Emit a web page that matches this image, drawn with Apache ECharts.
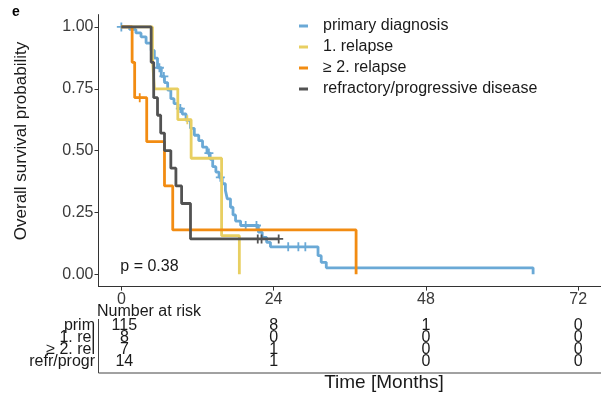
<!DOCTYPE html>
<html><head><meta charset="utf-8">
<script src="https://cdn.jsdelivr.net/npm/echarts@6/dist/echarts.min.js"></script>
<style>html,body{margin:0;padding:0;background:#fff}#c{width:601px;height:395px}</style>
</head><body><div id="c"></div>
<script>
const FONT = '"Liberation Sans", Arial, Helvetica, sans-serif';
const seriesNames = ['primary diagnosis', '1. relapse', '≥ 2. relapse', 'refractory/progressive disease'];
const seriesColors = ['#6aa9d6', '#e8cf62', '#f28c12', '#525252'];

// Kaplan-Meier step data (time in months, survival probability after the step)
const primTime = [0,1.3,2.3,3.1,3.9,4.7,5.2,5.7,6.3,6.8,7.3,7.8,8.3,8.9,9.6,10.2,10.9,11.5,12.2,12.8,13.5,14.0,14.4,14.9,15.4,15.9,16.4,16.7,17.2,17.6,18.0,18.8,21.6,22.2,22.9,23.5,31.0,31.5,32.3,64.9];
const primSurv = [1,0.99,0.976,0.96,0.935,0.905,0.874,0.835,0.80,0.775,0.745,0.71,0.69,0.67,0.648,0.622,0.59,0.562,0.54,0.514,0.49,0.465,0.435,0.413,0.392,0.366,0.339,0.305,0.271,0.24,0.215,0.197,0.17,0.149,0.129,0.111,0.075,0.048,0.026,0];
const primCensorTime = [0,6.0,6.7,9.3,13.8,15.6,19.6,21.3,26.3,27.9,29.0];

const relTime = [0,4.9,5.2,8.9,11.0,15.8,18.6];
const relSurv = [1,0.875,0.75,0.625,0.469,0.156,0];
const relCensorTime = [10.4];

const rel2Time = [0,1.7,2.1,4.0,6.8,8.1,37.0];
const rel2Surv = [1,0.857,0.714,0.536,0.357,0.179,0];
const rel2CensorTime = [2.9];

const refrTime = [0,4.7,5.1,5.7,6.2,6.8,7.8,8.6,9.5,10.9,24.8];
const refrSurv = [1,0.857,0.714,0.643,0.571,0.5,0.429,0.357,0.286,0.143,0.143];
const refrCensorTime = [21.5,22.1,24.8];

const xTicks = [0, 24, 48, 72];
const yTicks = [0, 0.25, 0.5, 0.75, 1];

// Number at risk table
const riskRowLabels = ['prim', '1. rel', '≥ 2. rel', 'refr/progr'];
const riskPrim = [115, 8, 1, 0];
const riskRel = [8, 0, 0, 0];
const riskRel2 = [7, 1, 0, 0];
const riskRefr = [14, 1, 0, 0];
const pValueText = 'p = 0.38';

const curves = [
  {t: primTime, s: primSurv, c: primCensorTime},
  {t: relTime, s: relSurv, c: relCensorTime},
  {t: rel2Time, s: rel2Surv, c: rel2CensorTime},
  {t: refrTime, s: refrSurv, c: refrCensorTime}
];
function levelAt(curve, t) {
  let v = curve.s[0];
  for (let i = 0; i < curve.t.length; i++) { if (curve.t[i] <= t) v = curve.s[i]; }
  return v;
}
const PLUS = 'path://M4,0H6V4H10V6H6V10H4V6H0V4H4Z';

const series = [];
curves.forEach((cv, i) => {
  series.push({
    name: seriesNames[i], type: 'line', step: 'end', showSymbol: false, symbol: 'none',
    data: cv.t.map((t, k) => [t, cv.s[k]]),
    lineStyle: {color: seriesColors[i], width: 2.8}, itemStyle: {color: seriesColors[i]},
    z: 2 + i * 2, silent: true
  });
  series.push({
    name: seriesNames[i] + ' censor', type: 'scatter', symbol: PLUS, symbolSize: 9,
    data: cv.c.map(t => [t, levelAt(cv, t)]),
    itemStyle: {color: seriesColors[i], opacity: 1}, z: 3 + i * 2, silent: true
  });
});

const chart = echarts.init(document.getElementById('c'), null, {renderer: 'canvas'});
chart.setOption({
  animation: false,
  backgroundColor: '#ffffff',
  grid: {left: 98.5, top: 14.6, width: 506, height: 272, containLabel: false},
  xAxis: {
    type: 'value', min: -3.6, max: 75.6,
    axisLine: {show: true, onZero: false, lineStyle: {color: '#333', width: 1}},
    axisTick: {show: true, length: 4, customValues: xTicks, lineStyle: {color: '#333'}},
    axisLabel: {customValues: xTicks, margin: 5, fontSize: 16, color: '#3a3a3a', fontFamily: FONT},
    splitLine: {show: false}
  },
  yAxis: {
    type: 'value', min: -0.05, max: 1.05,
    axisLine: {show: true, onZero: false, lineStyle: {color: '#333', width: 1}},
    axisTick: {show: true, length: 4, customValues: yTicks, lineStyle: {color: '#333'}},
    axisLabel: {customValues: yTicks, margin: 5, fontSize: 16, color: '#3a3a3a', fontFamily: FONT,
      formatter: v => v.toFixed(2)},
    splitLine: {show: false}
  },
  legend: {
    orient: 'vertical', left: 294, top: 13, itemWidth: 9, itemHeight: 3, itemGap: 5,
    icon: 'rect',
    data: seriesNames,
    textStyle: {fontSize: 16, fontFamily: FONT, color: '#1a1a1a', lineHeight: 16, padding: [0, 0, 0, 10]}
  },
  series: series
});

function px(t) { return chart.convertToPixel({xAxisIndex: 0}, t); }
const g = [];
const txt = (text, x, y, opts) => Object.assign({
  type: 'text', x: x, y: y, silent: true,
  style: Object.assign({text: text, font: '16px ' + FONT, fill: '#1a1a1a', textAlign: 'left', textVerticalAlign: 'middle'}, opts || {})
});
g.push({type: 'text', x: 12, y: 12, silent: true, style: {text: 'e', font: 'bold 14px ' + FONT, fill: '#000', textVerticalAlign: 'middle'}});
g.push({type: 'text', x: 21, y: 141, rotation: Math.PI / 2, silent: true,
  style: {text: 'Overall survival probability', font: '17px ' + FONT, fill: '#1a1a1a', textAlign: 'center', textVerticalAlign: 'middle'}});
g.push(txt(pValueText, px(0) - 1, 267));
g.push(txt('Number at risk', 97, 312));
const riskRows = [riskPrim, riskRel, riskRel2, riskRefr];
const rowY = [326, 338, 350, 362];
riskRows.forEach((row, r) => {
  g.push(txt(riskRowLabels[r], 95, rowY[r], {textAlign: 'right'}));
  row.forEach((n, k) => {
    g.push(txt(String(n), px(xTicks[k]) + (k === 0 ? 3 : 0), rowY[r], {textAlign: 'center'}));
  });
});
g.push({type: 'line', silent: true, shape: {x1: 98.5, y1: 319, x2: 98.5, y2: 373}, style: {stroke: '#444', lineWidth: 1}});
g.push({type: 'line', silent: true, shape: {x1: 98.5, y1: 373, x2: 601, y2: 373}, style: {stroke: '#444', lineWidth: 1}});
g.push(txt('Time [Months]', 384, 383, {textAlign: 'center', font: '19px ' + FONT}));
chart.setOption({graphic: g});
</script></body></html>
